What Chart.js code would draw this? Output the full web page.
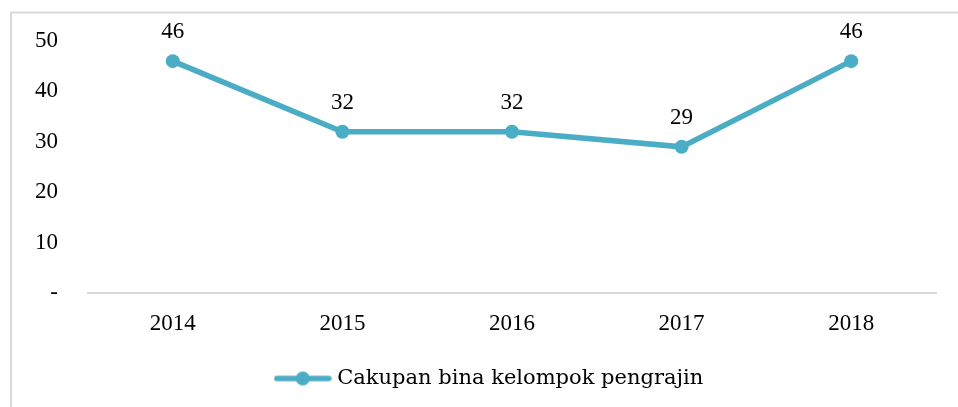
<!DOCTYPE html>
<html>
<head>
<meta charset="utf-8">
<script src="https://cdn.jsdelivr.net/npm/chart.js@4/dist/chart.umd.min.js"></script>
<style>
  html, body { margin: 0; padding: 0; background: #ffffff; }
  #wrap { width: 958px; height: 407px; position: relative; }
</style>
</head>
<body>
<div id="wrap"><canvas id="c" width="958" height="407"></canvas></div>
<script>
const categories = ['2014', '2015', '2016', '2017', '2018'];
const seriesName = 'Cakupan bina kelompok pengrajin';
const seriesValues = [46, 32, 32, 29, 46];
const yTicks = [0, 10, 20, 30, 40, 50];

const lineColor = '#4bacc6';
const numFont = '"Liberation Serif", "DejaVu Serif", serif';
const legendFont = '"DejaVu Serif", "Liberation Serif", serif';

// legend marker: line with a circle
const marker = document.createElement('canvas');
marker.width = 58; marker.height = 16;
(function () {
  const m = marker.getContext('2d');
  m.strokeStyle = lineColor; m.lineWidth = 5.5; m.lineCap = 'round';
  m.beginPath(); m.moveTo(3, 8); m.lineTo(55, 8); m.stroke();
  m.fillStyle = lineColor;
  m.beginPath(); m.arc(29, 8, 7, 0, Math.PI * 2); m.fill();
})();

const frame = {
  id: 'frame',
  beforeDraw(chart) {
    const ctx = chart.ctx;
    ctx.save();
    ctx.strokeStyle = '#d9d9d9';
    ctx.lineWidth = 2;
    ctx.beginPath();
    ctx.moveTo(11, 407); ctx.lineTo(11, 12.5); ctx.lineTo(958, 12.5);
    ctx.stroke();
    ctx.restore();
  }
};

const legendShift = {
  id: 'legendShift',
  afterLayout(chart) {
    if (chart.legend) { chart.legend.left += 23; chart.legend.right += 23; }
  }
};

const valueLabels = {
  id: 'valueLabels',
  afterDatasetsDraw(chart) {
    const ctx = chart.ctx;
    const meta = chart.getDatasetMeta(0);
    ctx.save();
    ctx.font = '23px ' + numFont;
    ctx.fillStyle = '#000000';
    ctx.textAlign = 'center';
    ctx.textBaseline = 'middle';
    meta.data.forEach((pt, i) => {
      ctx.fillText(String(chart.data.datasets[0].data[i]), pt.x, pt.y - 29);
    });
    ctx.restore();
  }
};

new Chart(document.getElementById('c'), {
  type: 'line',
  data: {
    labels: categories,
    datasets: [{
      label: seriesName,
      data: seriesValues,
      borderColor: lineColor,
      backgroundColor: lineColor,
      borderWidth: 5.5,
      pointStyle: 'circle',
      pointRadius: 7,
      pointHoverRadius: 7,
      pointBackgroundColor: lineColor,
      pointBorderWidth: 0,
      tension: 0,
      clip: false
    }]
  },
  options: {
    responsive: false,
    animation: false,
    devicePixelRatio: 1,
    events: [],
    layout: { padding: { left: 0, right: 22, top: 41, bottom: 8 } },
    scales: {
      x: {
        offset: true,
        grid: { display: false, drawTicks: false },
        border: { display: true, color: '#d9d9d9', width: 2 },
        ticks: { color: '#000000', font: { family: numFont, size: 23 }, padding: 17 },
        afterFit(s) { s.height = 65; }
      },
      y: {
        min: 0, max: 50,
        afterBuildTicks(s) { s.ticks = yTicks.map(v => ({ value: v })); },
        grid: { display: false, drawTicks: false },
        border: { display: false },
        ticks: {
          color: '#000000',
          font: { family: numFont, size: 23 },
          padding: 30,
          callback: v => (v === 0 ? '-' : String(v))
        },
        afterFit(s) { s.width = 88; s.paddingTop = 0; s.paddingBottom = 0; }
      }
    },
    plugins: {
      tooltip: { enabled: false },
      legend: {
        position: 'bottom',
        labels: {
          color: '#000000',
          font: { family: legendFont, size: 21 },
          usePointStyle: true,
          pointStyleWidth: 48,
          generateLabels(chart) {
            return [{
              text: seriesName,
              pointStyle: marker,
              fillStyle: lineColor,
              strokeStyle: lineColor,
              lineWidth: 0,
              hidden: false,
              datasetIndex: 0,
              fontColor: '#000000'
            }];
          }
        }
      }
    }
  },
  plugins: [frame, legendShift, valueLabels]
});
</script>
</body>
</html>
